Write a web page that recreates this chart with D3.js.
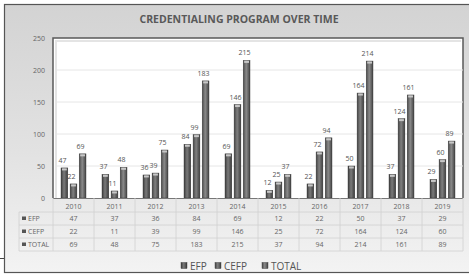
<!DOCTYPE html>
<html><head><meta charset="utf-8">
<script src="https://cdn.jsdelivr.net/npm/d3@7"></script>
<style>body{margin:0;background:#fff}svg{display:block}</style>
</head><body>
<svg id="c" width="469" height="278"></svg>
<script>
const years = ["2010","2011","2012","2013","2014","2015","2016","2017","2018","2019"];
const seriesNames = ["EFP","CEFP","TOTAL"];
const efp = [47,37,36,84,69,12,22,50,37,29];
const cefp = [22,11,39,99,146,25,72,164,124,60];
const total = [69,48,75,183,215,37,94,214,161,89];
const yTicks = [0,50,100,150,200,250];
const title = "CREDENTIALING PROGRAM OVER TIME";
const seriesVals = [efp, cefp, total];

(function(){
const svg = d3.select("#c");
const defs = svg.append("defs");
const bg = defs.append("linearGradient").attr("id","bg").attr("x1",0).attr("y1",0).attr("x2",0).attr("y2",1);
bg.append("stop").attr("offset","0").attr("stop-color","#d3d3d3");
bg.append("stop").attr("offset","0.55").attr("stop-color","#e2e2e2");
bg.append("stop").attr("offset","1").attr("stop-color","#f3f3f3");
const barCols = [["#3e3e3e","#7a7a7a","#3a3a3a"],["#444","#808080","#3e3e3e"],["#4a4a4a","#8a8a8a","#444"]];
barCols.forEach((c,i)=>{
  const g = defs.append("linearGradient").attr("id","bar"+i).attr("x1",0).attr("y1",0).attr("x2",1).attr("y2",0);
  g.append("stop").attr("offset","0").attr("stop-color",c[0]);
  g.append("stop").attr("offset","0.45").attr("stop-color",c[1]);
  g.append("stop").attr("offset","1").attr("stop-color",c[2]);
});

svg.append("rect").attr("x",4.5).attr("y",4.5).attr("width",470).attr("height",268)
  .attr("fill","url(#bg)").attr("stroke","#555").attr("stroke-width",1.2);
svg.append("line").attr("x1",0).attr("x2",4).attr("y1",258.5).attr("y2",258.5).attr("stroke","#444");

const pLeft = 53, pRight = 463, pTop = 38, pBottom = 198;
const x0 = d3.scaleBand().domain(years).range([pLeft,pRight]).padding(0);
const x1 = d3.scaleBand().domain(seriesNames).range([-12.5,12.5]).paddingInner(0.25);
const y = d3.scaleLinear().domain([0,250]).range([pBottom,pTop]);

svg.append("rect").attr("x",pLeft).attr("y",pTop).attr("width",pRight-pLeft).attr("height",pBottom-pTop)
  .attr("fill","#fff");
svg.append("path").attr("d",`M${pLeft},${pBottom}V${pTop}H${pRight}V${pBottom}`).attr("fill","none")
  .attr("stroke","#5a5a5a").attr("stroke-width",1.5);
svg.append("path").attr("d",`M${pLeft+3},${pBottom}V${pTop+3}H${pRight-2}`).attr("fill","none")
  .attr("stroke","#e4e4e4").attr("stroke-width",2);

svg.append("g").selectAll("line").data(yTicks.filter(t=>t>0&&t<250)).join("line")
  .attr("x1",pLeft+4).attr("x2",pRight).attr("y1",d=>y(d)).attr("y2",d=>y(d))
  .attr("stroke","#e6e6e6").attr("stroke-width",1);

const font = "Open Sans, sans-serif";
const yAxis = d3.axisLeft(y).tickValues(yTicks).tickSize(0).tickPadding(8);
const ya = svg.append("g").attr("transform",`translate(${pLeft},0)`).call(yAxis);
ya.select(".domain").remove();
ya.selectAll("text").attr("font-family",font).attr("font-size",7).attr("fill","#666");

seriesNames.forEach((s,si)=>{
  const g = svg.append("g");
  years.forEach((yr,i)=>{
    const v = seriesVals[si][i];
    const bx = x0(yr)+x0.bandwidth()/2 + x1(s);
    const bw = x1.bandwidth();
    g.append("rect").attr("x",bx).attr("y",y(v)).attr("width",bw).attr("height",pBottom-y(v))
      .attr("fill",`url(#bar${si})`).attr("stroke","#333").attr("stroke-width",0.4);
    g.append("rect").attr("x",bx+1).attr("y",y(v)+0.5).attr("width",bw-2).attr("height",2)
      .attr("fill","#c8c8c8");
    svg.append("text").attr("x",bx+bw/2-2).attr("y",y(v)-5).attr("text-anchor","middle")
      .attr("font-family",font).attr("font-size",7).attr("fill","#555").text(v);
  });
});
svg.append("line").attr("x1",pLeft).attr("x2",pRight).attr("y1",pBottom+0.5).attr("y2",pBottom+0.5)
  .attr("stroke","#777").attr("stroke-width",1);

const tLeft = 19, rowY = [199,212,225,238,251];
const tg = svg.append("g").attr("stroke","#d0d0d0").attr("stroke-width",0.8);
[1,2,3,4].forEach(k=>{
  tg.append("line").attr("x1",tLeft).attr("x2",pRight).attr("y1",rowY[k]).attr("y2",rowY[k]);
});
tg.append("line").attr("x1",tLeft).attr("x2",tLeft).attr("y1",rowY[1]).attr("y2",rowY[4]);
years.forEach(yr=>{
  tg.append("line").attr("x1",x0(yr)).attr("x2",x0(yr)).attr("y1",pBottom).attr("y2",rowY[4]);
});
tg.append("line").attr("x1",pRight).attr("x2",pRight).attr("y1",pBottom).attr("y2",rowY[4]);

years.forEach(yr=>{
  svg.append("text").attr("x",x0(yr)+x0.bandwidth()/2).attr("y",(rowY[0]+rowY[1])/2+3)
    .attr("text-anchor","middle").attr("font-family",font).attr("font-size",7).attr("fill","#666").text(yr);
});
seriesNames.forEach((s,si)=>{
  const cy = (rowY[si+1]+rowY[si+2])/2;
  svg.append("rect").attr("x",tLeft+3).attr("y",cy-2).attr("width",4).attr("height",3.5).attr("fill","#555");
  svg.append("text").attr("x",tLeft+9).attr("y",cy+2.5).attr("font-family",font).attr("font-size",7)
    .attr("fill","#666").text(s);
  years.forEach((yr,i)=>{
    svg.append("text").attr("x",x0(yr)+x0.bandwidth()/2).attr("y",cy+2.5).attr("text-anchor","middle")
      .attr("font-family",font).attr("font-size",7).attr("fill","#666").text(seriesVals[si][i]);
  });
});

const legX = [181,215,262];
seriesNames.forEach((s,si)=>{
  const g = svg.append("g").attr("transform",`translate(${legX[si]},266)`);
  g.append("rect").attr("x",0).attr("y",-3.5).attr("width",6).attr("height",6).attr("fill",`url(#bar${si})`).attr("stroke","#333").attr("stroke-width",0.4);
  g.append("text").attr("x",9).attr("y",3.5).attr("font-family",font).attr("font-size",10).attr("fill","#555").text(s);
});

svg.append("text").attr("x",239).attr("y",23).attr("text-anchor","middle").attr("font-family",font)
  .attr("font-weight","bold").attr("font-size",10.5).attr("fill","#595959").text(title);
})();
</script>
</body></html>
